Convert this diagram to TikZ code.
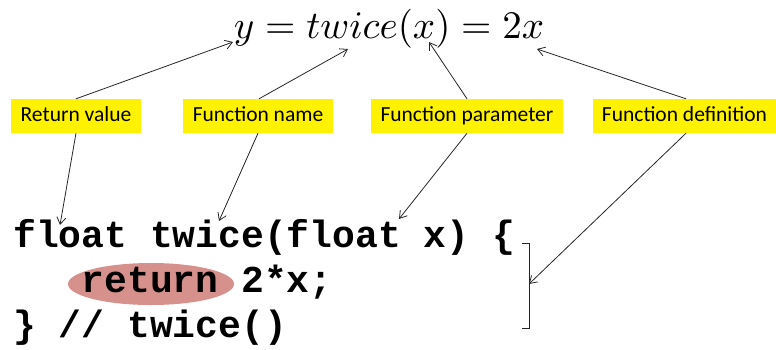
\documentclass[tikz,border=0pt]{standalone}
\usepackage{fontspec}
\setsansfont{Carlito}
\setmonofont{Liberation Mono}
\usetikzlibrary{arrows.meta,shapes.geometric}
\definecolor{hlrose}{HTML}{D7918D}
\tikzset{
  label box/.style={fill=yellow, font=\sffamily\fontsize{21.5}{24}\selectfont,
    inner xsep=0pt, minimum height=34pt, text height=14pt, text depth=4pt},
  code line/.style={anchor=base west, inner sep=0pt,
    font=\ttfamily\bfseries\fontsize{38}{45}\selectfont},
  pointer/.style={draw=black!85, line width=0.8pt,
    -{Straight Barb[length=7pt,width=9pt]}},
}
\begin{document}
\begin{tikzpicture}[x=1pt,y=-1pt]
\useasboundingbox (0,0) rectangle (776,349);

% the formula
\node[anchor=base, inner sep=0pt] (eq) at (389,38)
  {\scalebox{3.9}{$y = twice(x) = 2x$}};

% label boxes
\node[label box, minimum width=130pt] (rv) at (76,116) {Return value};
\node[label box, minimum width=150pt] (fn) at (258,116) {Function name};
\node[label box, minimum width=192pt] (fp) at (467,116) {Function parameter};
\node[label box, minimum width=183pt] (fd) at (684.5,116) {Function definition};

% highlight behind the return keyword
\node[ellipse, fill=hlrose, minimum width=166pt, minimum height=42pt,
  inner sep=0pt] (hl) at (151,284) {};

% the code
\node[code line] (l1) at (13,247) {float twice(float x) \{};
\node[code line] (l2) at (13,292) {\ \ \ return 2*x;};
\node[code line] (l3) at (13,337) {\} // twice()};

% bracket marking the function body
\coordinate (bt) at (522,243);
\coordinate (bb) at (522,328);
\draw[draw=black!85, line width=0.9pt] (bt) -- ++(7,0) |- (bb);

% targets of the pointers
\coordinate (ty) at (233,42);
\coordinate (tname) at (348,49);
\coordinate (tx) at (429,42);
\coordinate (tdef) at (537,49);
\coordinate (cfloat) at (60,225);
\coordinate (ctwice) at (219,221);
\coordinate (cx) at (399,219);
\coordinate (cbody) at (529,284);

\draw[pointer] (rv.north) -- (ty);
\draw[pointer] (rv.south) -- (cfloat);
\draw[pointer] (fn.north) ++(1,0) -- (tname);
\draw[pointer] (fn.south) -- (ctwice);
\draw[pointer] (fp.north) -- (tx);
\draw[pointer] (fp.south) -- (cx);
\draw[pointer] (fd.north) ++(1.5,0) -- (tdef);
\draw[pointer] (fd.south) ++(1.5,0) -- (cbody);
\end{tikzpicture}
\end{document}
